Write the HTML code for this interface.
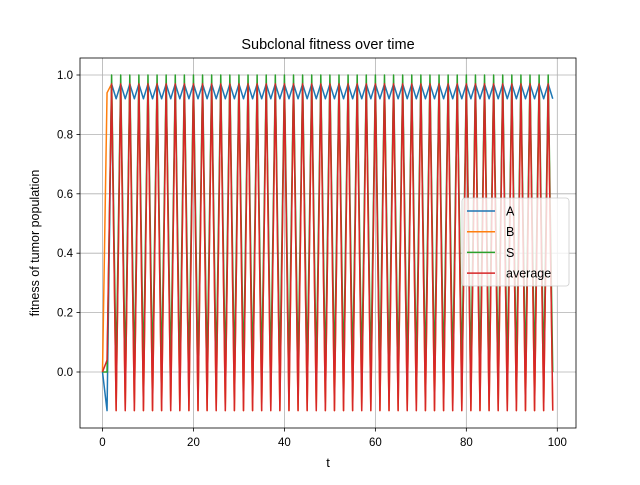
<!DOCTYPE html>
<html><head><meta charset="utf-8"><style>
body{margin:0;background:#fff;}
svg text{font-family:"Liberation Sans","DejaVu Sans",sans-serif;}
</style></head><body>
<svg id="chart" width="640" height="480" xmlns="http://www.w3.org/2000/svg">
<rect width="640" height="480" fill="#fff"/>
<g id="grid"></g>
<g id="series"></g>
<rect x="80" y="58" width="496" height="370" fill="none" stroke="#000" stroke-width="0.8"/>
<g id="ticks"></g>
<text x="328" y="49" font-size="14.5" text-anchor="middle">Subclonal fitness over time</text>
<text x="328" y="467" font-size="13" text-anchor="middle">t</text>
<text transform="translate(39,243) rotate(-90)" font-size="12.5" text-anchor="middle">fitness of tumor population</text>
<g id="legend"></g>
</svg>
<script>
const xTicks=[0,20,40,60,80,100];
const yTicks=[0.0,0.2,0.4,0.6,0.8,1.0];
const yTickLabels=["0.0","0.2","0.4","0.6","0.8","1.0"];
const seriesNames=["A","B","S","average"];
const seriesA=[0,-0.13,
0.97,0.92,0.97,0.92,0.97,0.92,0.97,0.92,0.97,0.92,0.97,0.92,0.97,0.92,0.97,0.92,0.97,0.92,
0.97,0.92,0.97,0.92,0.97,0.92,0.97,0.92,0.97,0.92,0.97,0.92,0.97,0.92,0.97,0.92,0.97,0.92,
0.97,0.92,0.97,0.92,0.97,0.92,0.97,0.92,0.97,0.92,0.97,0.92,0.97,0.92,0.97,0.92,0.97,0.92,
0.97,0.92,0.97,0.92,0.97,0.92,0.97,0.92,0.97,0.92,0.97,0.92,0.97,0.92,0.97,0.92,0.97,0.92,
0.97,0.92,0.97,0.92,0.97,0.92,0.97,0.92,0.97,0.92,0.97,0.92,0.97,0.92,0.97,0.92,0.97,0.92,0.97,0.92,
0.97,0.92,0.97,0.92,0.97,0.92];
const seriesB=[0,0.94,
0.97,-0.13,0.97,-0.13,0.97,-0.13,0.97,-0.13,0.97,-0.13,0.97,-0.13,0.97,-0.13,0.97,-0.13,0.97,-0.13,
0.97,-0.13,0.97,-0.13,0.97,-0.13,0.97,-0.13,0.97,-0.13,0.97,-0.13,0.97,-0.13,0.97,-0.13,0.97,-0.13,
0.97,-0.13,0.97,-0.13,0.97,-0.13,0.97,-0.13,0.97,-0.13,0.97,-0.13,0.97,-0.13,0.97,-0.13,0.97,-0.13,
0.97,-0.13,0.97,-0.13,0.97,-0.13,0.97,-0.13,0.97,-0.13,0.97,-0.13,0.97,-0.13,0.97,-0.13,0.97,-0.13,
0.97,-0.13,0.97,-0.13,0.97,-0.13,0.97,-0.13,0.97,-0.13,0.97,-0.13,0.97,-0.13,0.97,-0.13,0.97,-0.13,0.97,-0.13,
0.97,-0.13,0.97,-0.13,0.97,-0.13];
const seriesS=[0,0,
1,0,1,0,1,0,1,0,1,0,1,0,1,0,1,0,1,0,
1,0,1,0,1,0,1,0,1,0,1,0,1,0,1,0,1,0,
1,0,1,0,1,0,1,0,1,0,1,0,1,0,1,0,1,0,
1,0,1,0,1,0,1,0,1,0,1,0,1,0,1,0,1,0,
1,0,1,0,1,0,1,0,1,0,1,0,1,0,1,0,1,0,1,0,
1,0,1,0,1,0];
const seriesAvg=[0,0.04,
0.97,-0.13,0.97,-0.13,0.97,-0.13,0.97,-0.13,0.97,-0.13,0.97,-0.13,0.97,-0.13,0.97,-0.13,0.97,-0.13,
0.97,-0.13,0.97,-0.13,0.97,-0.13,0.97,-0.13,0.97,-0.13,0.97,-0.13,0.97,-0.13,0.97,-0.13,0.97,-0.13,
0.97,-0.13,0.97,-0.13,0.97,-0.13,0.97,-0.13,0.97,-0.13,0.97,-0.13,0.97,-0.13,0.97,-0.13,0.97,-0.13,
0.97,-0.13,0.97,-0.13,0.97,-0.13,0.97,-0.13,0.97,-0.13,0.97,-0.13,0.97,-0.13,0.97,-0.13,0.97,-0.13,
0.97,-0.13,0.97,-0.13,0.97,-0.13,0.97,-0.13,0.97,-0.13,0.97,-0.13,0.97,-0.13,0.97,-0.13,0.97,-0.13,0.97,-0.13,
0.97,-0.13,0.97,-0.13,0.97,-0.13];

const NS="http://www.w3.org/2000/svg";
const xs=t=>102.5+t*4.548;
const ys=v=>372-v*297;
function mk(tag,attrs,parent){const e=document.createElementNS(NS,tag);for(const k in attrs)e.setAttribute(k,attrs[k]);parent.appendChild(e);return e;}
const grid=document.getElementById('grid'),ticks=document.getElementById('ticks'),ser=document.getElementById('series'),leg=document.getElementById('legend');
xTicks.forEach(t=>{
  const x=xs(t);
  const g=mk('line',{x1:x,x2:x,y1:58,y2:428,stroke:'#b0b0b0','stroke-width':0.8},grid);
  
  
  const tk=mk('line',{x1:x,x2:x,y1:428,y2:431.5,stroke:'#000','stroke-width':0.8},ticks);
  
  
  const lb=mk('text',{x:x,y:446,'font-size':'11.5','text-anchor':'middle'},ticks);
  lb.textContent=String(t);
  
  
});
yTicks.forEach((v,i)=>{
  const y=ys(v);
  const g=mk('line',{x1:80,x2:576,y1:y,y2:y,stroke:'#b0b0b0','stroke-width':0.8},grid);
  
  
  const tk=mk('line',{x1:76.5,x2:80,y1:y,y2:y,stroke:'#000','stroke-width':0.8},ticks);
  
  
  const lb=mk('text',{x:73,y:y+4,'font-size':'11.5','text-anchor':'end'},ticks);
  lb.textContent=yTickLabels[i];
  
  
});
const allSeries=[seriesA,seriesB,seriesS,seriesAvg];
const colors=['#1f77b4','#ff7f0e','#2ca02c','#d62728'];
allSeries.forEach((d,si)=>{
  const pts=d.map((v,t)=>xs(t).toFixed(2)+','+ys(v).toFixed(2)).join(' ');
  const pl=mk('polyline',{points:pts,fill:'none',stroke:colors[si],'stroke-width':1.5,'stroke-linejoin':'round'},ser);
  
  
});
const box=mk('rect',{x:462,y:198,width:107,height:88,rx:3,fill:'#fff','fill-opacity':0.8,stroke:'#cccccc','stroke-width':0.8},leg);


seriesNames.forEach((n,i)=>{
  const y=211+i*20.7;
  const l=mk('line',{x1:467,x2:495,y1:y,y2:y,stroke:colors[i],'stroke-width':1.5},leg);
  
  
  const t=mk('text',{x:506,y:y+4.5,'font-size':'12.5'},leg);
  t.textContent=n;
  
  
});
</script>
</body></html>
